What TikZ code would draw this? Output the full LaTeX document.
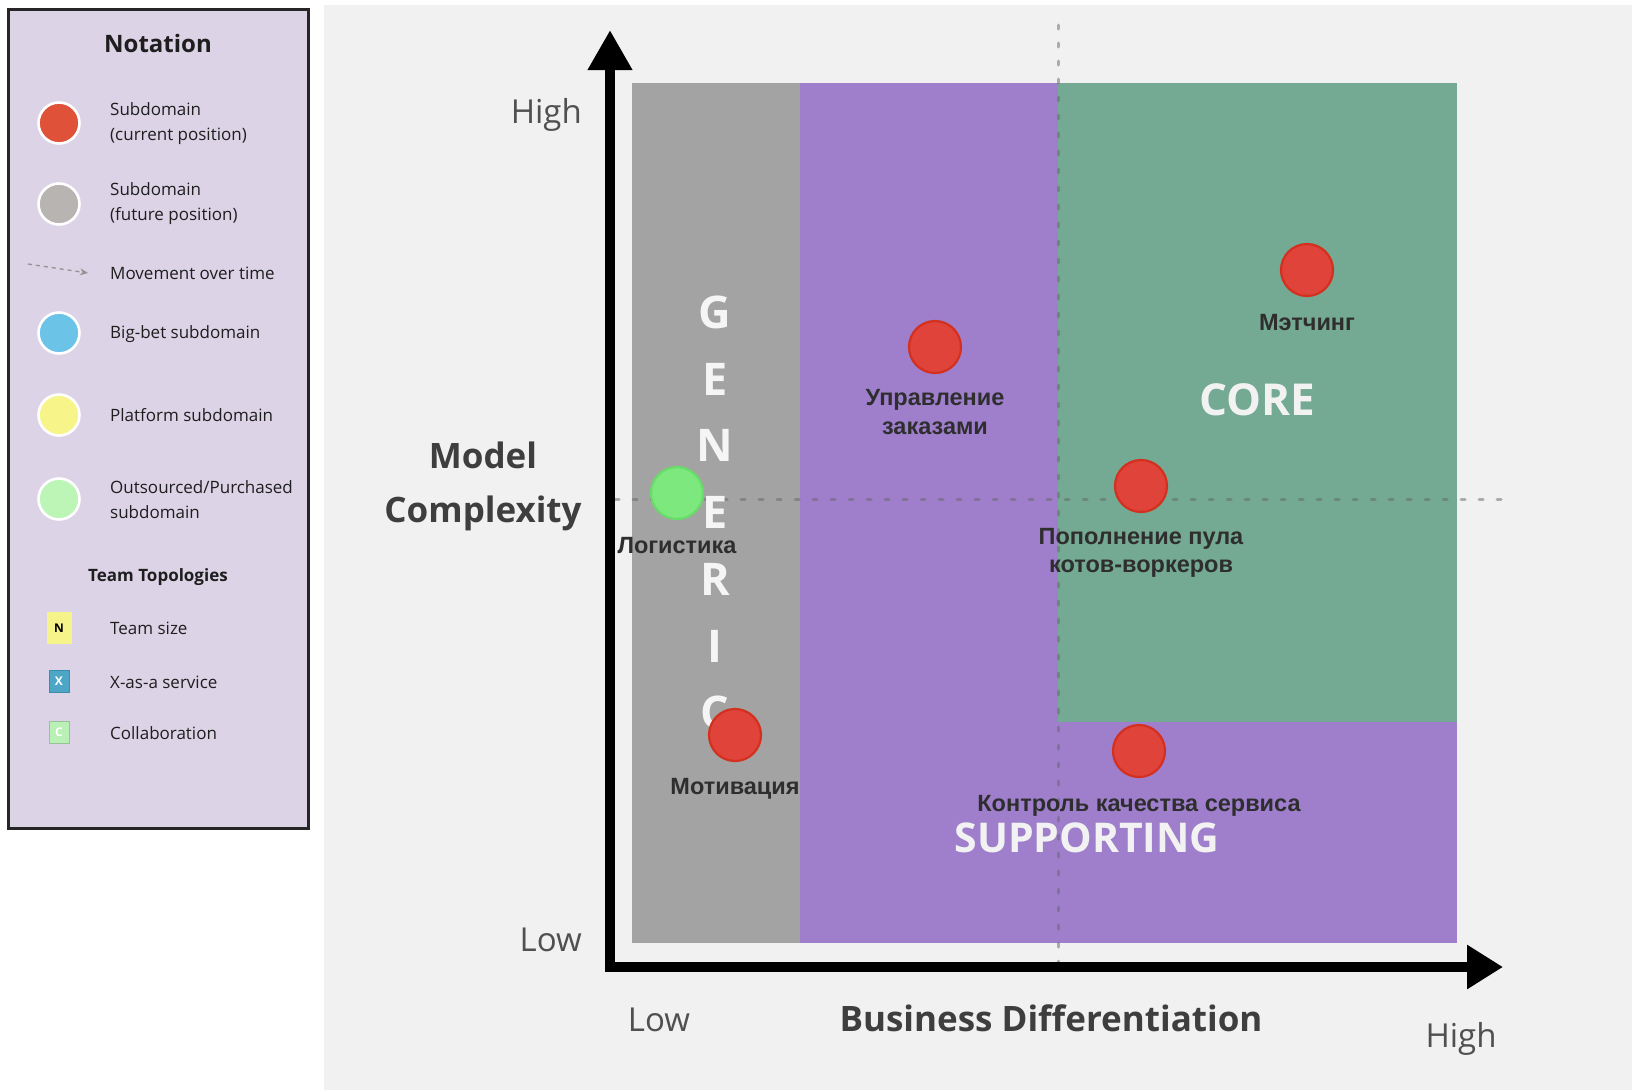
\documentclass[tikz,border=0pt]{standalone}
\usepackage{fontspec}
\setmainfont{Open Sans}
\newfontfamily\labelfont{Liberation Sans}
\usetikzlibrary{arrows.meta}

% palette
\definecolor{panelbg}{HTML}{F1F1F1}
\definecolor{legendbg}{HTML}{DCD3E6}
\definecolor{legendline}{HTML}{262626}
\definecolor{legendtext}{HTML}{1E1E1E}
\definecolor{genericgray}{HTML}{A3A3A3}
\definecolor{supportpurple}{HTML}{9F7FCC}
\definecolor{coregreen}{HTML}{74A993}
\definecolor{curred}{HTML}{DF433A}
\definecolor{curredline}{HTML}{D3301F}
\definecolor{outgreen}{HTML}{7DE87E}
\definecolor{outgreenline}{HTML}{68DC68}
\definecolor{labeltext}{HTML}{2E2E2E}
\definecolor{axistext}{HTML}{3E3E3E}
\definecolor{ticktext}{HTML}{505050}
\definecolor{lgred}{HTML}{E0513A}
\definecolor{lggray}{HTML}{B8B4B2}
\definecolor{lgblue}{HTML}{6CC3E8}
\definecolor{lgyellow}{HTML}{F7F58A}
\definecolor{lggreen}{HTML}{BDF5B7}
\definecolor{sqyellow}{HTML}{F6F38B}
\definecolor{sqblue}{HTML}{4DA6C6}
\definecolor{sqblueline}{HTML}{3C8CAB}
\definecolor{sqgreen}{HTML}{B9F0B6}
\definecolor{sqgreenline}{HTML}{98C398}

\tikzset{
  lgdot/.style={circle, minimum size=41pt, inner sep=0pt, draw=white, line width=2.6pt},
  lgtext/.style={anchor=west, align=left, inner sep=0pt, text=legendtext,
    font=\fontsize{17}{25}\selectfont},
  lghead/.style={inner sep=0pt, text=legendtext, font=\bfseries\fontsize{17}{20}\selectfont},
  lgsquare/.style={rectangle, inner sep=0pt, font=\bfseries\fontsize{12}{14}\selectfont},
  subdot/.style={circle, minimum size=52pt, inner sep=0pt, line width=2.2pt,
    fill=curred, draw=curredline},
  sublabel/.style={inner sep=0pt, align=center, text=labeltext,
    font=\labelfont\bfseries\fontsize{23.5}{28.5}\selectfont},
  zonelabel/.style={inner sep=0pt, text=white!95!black, font=\bfseries\fontsize{44}{50}\selectfont},
  genletter/.style={inner sep=0pt, text=white!96!black, font=\bfseries\fontsize{45}{50}\selectfont},
  ticklabel/.style={inner sep=0pt, text=ticktext, font=\fontsize{33}{38}\selectfont},
  axistitle/.style={inner sep=0pt, text=axistext, align=center,
    font=\bfseries\fontsize{35}{54}\selectfont},
  axisline/.style={line width=10pt, line join=miter, draw=black},
  guide/.style={draw=black!60, line width=3pt, line cap=round,
    dash pattern=on 4pt off 14pt, opacity=0.5},
}

\begin{document}
\begin{tikzpicture}[x=1pt, y=-1pt]
\useasboundingbox (0,0) rectangle (1632,1090);
\fill[white] (0,0) rectangle (1632,1090);

% ---------- legend ----------
\draw[fill=legendbg, draw=legendline, line width=3pt] (8.5,9.5) rectangle (308.5,828.5);
\node[inner sep=0pt, text=legendtext, font=\bfseries\fontsize{24}{28}\selectfont] (notation) at (158,43) {Notation};

\node[lgdot, fill=lgred] (lgcur) at (59,123) {};
\node[lgtext] (lgcurtxt) at (110,124) {Subdomain\\(current position)};
\node[lgdot, fill=lggray] (lgfut) at (59,204) {};
\node[lgtext] (lgfuttxt) at (110,204) {Subdomain\\(future position)};
\coordinate (mvstart) at (28,264);
\coordinate (mvend) at (88,273);
\draw[draw=gray!85, line width=1.3pt, dash pattern=on 4pt off 4pt,
      -{Stealth[length=8pt, width=7pt]}] (mvstart) -- (mvend);
\node[lgtext] (lgmvtxt) at (110,273) {Movement over time};
\node[lgdot, fill=lgblue] (lgbig) at (59,333) {};
\node[lgtext] (lgbigtxt) at (110,334) {Big-bet subdomain};
\node[lgdot, fill=lgyellow] (lgplat) at (59,415) {};
\node[lgtext] (lgplattxt) at (110,415) {Platform subdomain};
\node[lgdot, fill=lggreen] (lgout) at (59,499) {};
\node[lgtext] (lgouttxt) at (110,500) {Outsourced/Purchased\\subdomain};

\node[lghead] (teamhead) at (158,577) {Team Topologies};
\node[lgsquare, fill=sqyellow, minimum width=25pt, minimum height=32pt, text=black] (sqn) at (59,628) {N};
\node[lgtext] (sqntxt) at (110,628) {Team size};
\node[lgsquare, fill=sqblue, draw=sqblueline, line width=0.8pt, minimum width=20pt, minimum height=22pt, text=white] (sqx) at (59,681) {X};
\node[lgtext] (sqxtxt) at (110,682) {X-as-a service};
\node[lgsquare, fill=sqgreen, draw=sqgreenline, line width=0.8pt, minimum width=20pt, minimum height=22pt, text=white] (sqc) at (59,732) {C};
\node[lgtext] (sqctxt) at (110,733) {Collaboration};

% ---------- chart ----------
\fill[panelbg] (324,5) rectangle (1632,1090);

% zones
\fill[genericgray] (632,83) rectangle (800,943);
\fill[supportpurple] (800,83) rectangle (1457,943);
\fill[coregreen] (1058,83) rectangle (1457,722);

% quadrant guides
\coordinate (vtop) at (1058,25);
\coordinate (vbot) at (1058,965);
\coordinate (hleft) at (615,499);
\coordinate (hright) at (1501,499);
\draw[guide] (vtop) -- (vbot);
\draw[guide] (hleft) -- (hright);

% zone names
\node[genletter] (g1) at (715,312) {G};
\node[genletter] (g2) at (715,379) {E};
\node[genletter] (g3) at (715,445) {N};
\node[genletter] (g4) at (715,512) {E};
\node[genletter] (g5) at (715,579) {R};
\node[genletter] (g6) at (715,646) {I};
\node[genletter] (g7) at (715,712) {C};
\node[zonelabel] (core) at (1257,400) {CORE};
\node[zonelabel, font=\bfseries\fontsize{41}{46}\selectfont] (supporting) at (1087,838) {SUPPORTING};

% axes
\coordinate (ytip) at (610,30);
\coordinate (origin) at (610,967);
\coordinate (xtip) at (1503,967);
\draw[axisline, {Triangle[length=40pt, width=42pt]}-{Triangle[length=36pt, width=42pt]}]
  (ytip) -- (origin) -- (xtip);

% axis labels
\node[ticklabel, anchor=base east] (yhigh) at (582,123) {High};
\node[ticklabel, anchor=base east] (ylow) at (582,951) {Low};
\node[ticklabel, anchor=base] (xlow) at (659,1031) {Low};
\node[ticklabel, anchor=base] (xhigh) at (1461,1047) {High};
\node[axistitle] (ytitle) at (483,486) {Model\\Complexity};
\node[axistitle, anchor=base] (xtitle) at (1051,1031) {Business Differentiation};

% subdomains
\node[circle, minimum size=52pt, inner sep=0pt, line width=2.2pt, fill=outgreen, draw=outgreenline] (logist) at (677,493) {};
\node[sublabel, anchor=base] (logisttxt) at (677,553) {Логистика};

\node[subdot] (orders) at (935,347) {};
\node[sublabel] (orderstxt) at (935,412) {Управление\\заказами};

\node[subdot] (match) at (1307,270) {};
\node[sublabel, anchor=base] (matchtxt) at (1307,330) {Мэтчинг};

\node[subdot] (pool) at (1141,486) {};
\node[sublabel] (pooltxt) at (1141,553) {Пополнение пула\\котов-воркеров};

\node[subdot] (motiv) at (735,735) {};
\node[sublabel, anchor=base] (motivtxt) at (735,794) {Мотивация};

\node[subdot] (quality) at (1139,751) {};
\node[sublabel, anchor=base] (qualitytxt) at (1139,811) {Контроль качества сервиса};
\end{tikzpicture}
\end{document}
